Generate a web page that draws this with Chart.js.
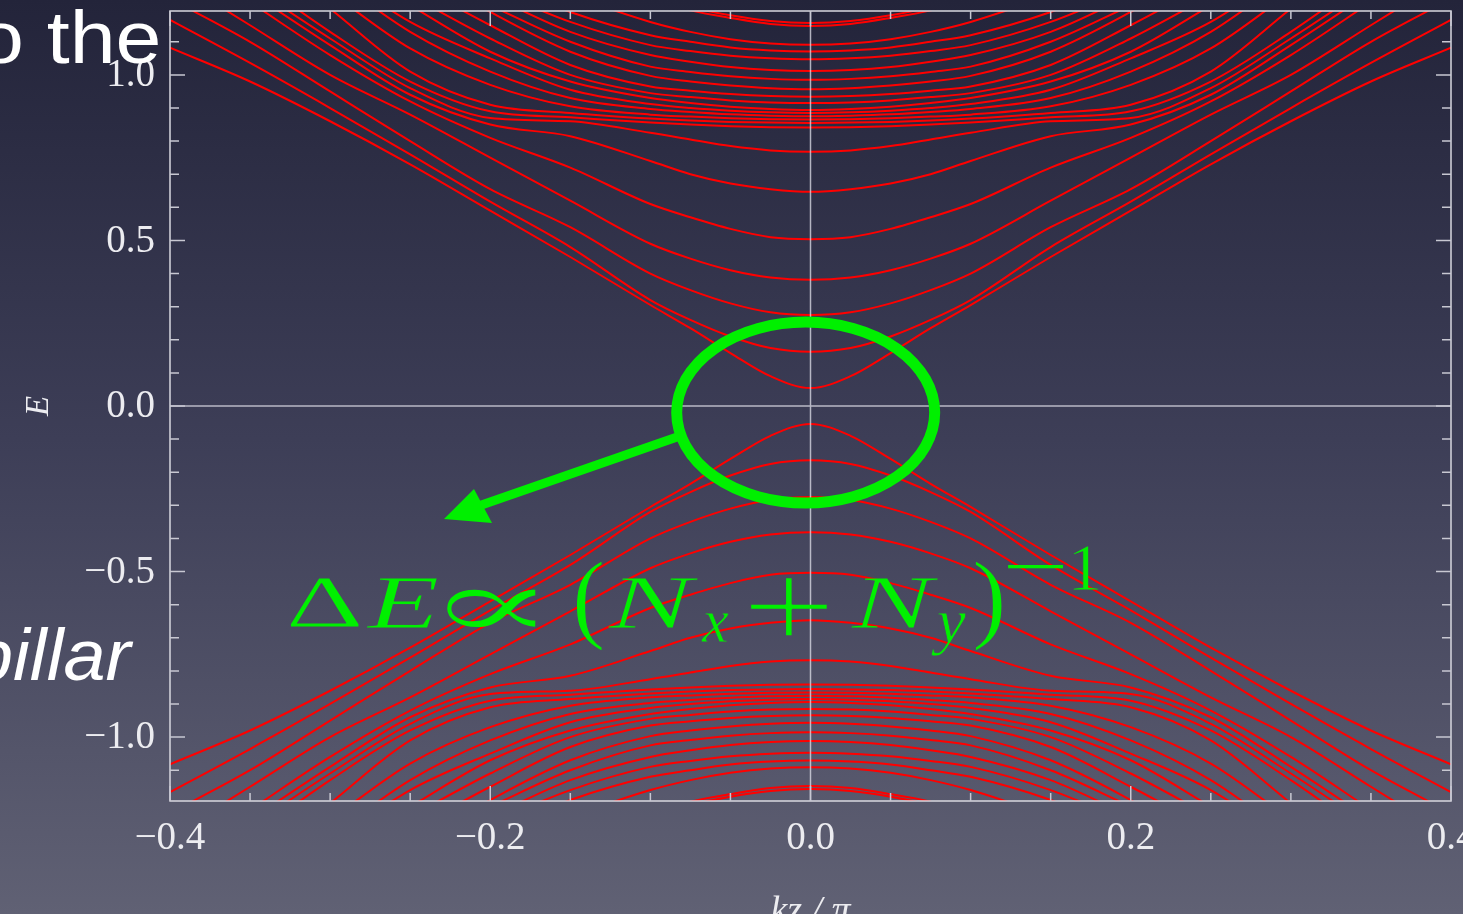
<!DOCTYPE html>
<html>
<head>
<meta charset="utf-8">
<script src="https://cdn.jsdelivr.net/npm/chart.js@4.4.1/dist/chart.umd.min.js"></script>
<style>
  html, body { margin: 0; padding: 0; width: 1463px; height: 914px; overflow: hidden; }
  body { background: linear-gradient(180deg, #23243a 0%, #3d3e57 48%, #606174 100%); }
  canvas { display: block; }
</style>
</head>
<body>
<canvas id="bands" width="1463" height="914"></canvas>
<script>
// Momentum grid (kz / pi) on which each band is sampled; bands are even in kz.
const kzGrid = [0, 0.025, 0.05, 0.075, 0.1, 0.15, 0.2, 0.25, 0.3, 0.35, 0.4];

// Positive-energy bands E(kz), ordered from the gap upwards;
// the spectrum is particle-hole symmetric.
const band01 = [0.054, 0.09, 0.16, 0.235, 0.305, 0.45, 0.59, 0.73, 0.86, 0.98, 1.082];
const band02 = [0.164, 0.175, 0.21, 0.26, 0.32, 0.48, 0.617, 0.76, 0.90, 1.036, 1.166];
const band03 = [0.275, 0.283, 0.31, 0.35, 0.40, 0.54, 0.655, 0.80, 0.95, 1.10, 1.23];
const band04 = [0.381, 0.388, 0.41, 0.445, 0.49, 0.62, 0.75, 0.88, 1.0, 1.15, 1.30];
const band05 = [0.504, 0.51, 0.535, 0.57, 0.61, 0.72, 0.81, 0.92, 1.06, 1.22];
const band06 = [0.647, 0.655, 0.672, 0.70, 0.74, 0.815, 0.85, 0.94, 1.09, 1.25];
const band07 = [0.768, 0.772, 0.785, 0.805, 0.825, 0.86, 0.87, 0.96, 1.11, 1.27];
const band08 = [0.841, 0.842, 0.845, 0.85, 0.856, 0.872, 0.89, 0.98, 1.13, 1.30];
const band09 = [0.855, 0.856, 0.858, 0.862, 0.868, 0.885, 0.91, 1.01, 1.20];
const band10 = [0.865, 0.866, 0.869, 0.874, 0.88, 0.905, 0.97, 1.08, 1.25];
const band11 = [0.875, 0.877, 0.881, 0.888, 0.897, 0.93, 1.01, 1.13, 1.30];
const band12 = [0.885, 0.887, 0.892, 0.90, 0.912, 0.955, 1.05, 1.16, 1.32];
const band13 = [0.894, 0.897, 0.904, 0.915, 0.93, 0.98, 1.07, 1.21];
const band14 = [0.915, 0.917, 0.923, 0.933, 0.945, 1.00, 1.11, 1.24];
const band15 = [0.934, 0.936, 0.942, 0.952, 0.965, 1.03, 1.15, 1.28];
const band16 = [0.957, 0.96, 0.968, 0.98, 0.997, 1.07, 1.19, 1.33];
const band17 = [0.985, 0.988, 0.996, 1.009, 1.025, 1.10, 1.21];
const band18 = [1.012, 1.015, 1.024, 1.04, 1.06, 1.13, 1.24];
const band19 = [1.047, 1.05, 1.058, 1.072, 1.09, 1.16, 1.26];
const band20 = [1.071, 1.074, 1.083, 1.10, 1.12, 1.19, 1.29];
const band21 = [1.091, 1.095, 1.108, 1.13, 1.16, 1.24];
const band22 = [1.148, 1.154, 1.172, 1.195, 1.23];
const band23 = [1.157, 1.163, 1.18, 1.205, 1.24];

const upperBands = [band01, band02, band03, band04, band05, band06, band07, band08,
  band09, band10, band11, band12, band13, band14, band15, band16,
  band17, band18, band19, band20, band21, band22, band23];

// Axis ranges and labelled ticks
const kzRange = [-0.4, 0.4];
const energyRange = [-1.193, 1.193];
const kzTickLabels = [-0.4, -0.2, 0.0, 0.2, 0.4];
const energyTickLabels = [-1.0, -0.5, 0.0, 0.5, 1.0];

// Build full curves: mirror in kz, and mirror in E for the negative branch.
function curve(band, sign) {
  const pts = [];
  for (let i = band.length - 1; i >= 1; i--) pts.push({ x: -kzGrid[i], y: sign * band[i] });
  for (let i = 0; i < band.length; i++) pts.push({ x: kzGrid[i], y: sign * band[i] });
  return pts;
}
const datasets = [];
for (const b of upperBands) {
  for (const s of [1, -1]) {
    datasets.push({
      data: curve(b, s),
      borderColor: '#ff0000',
      borderWidth: 2,
      pointRadius: 0,
      fill: false,
      cubicInterpolationMode: 'monotone'
    });
  }
}

const fmt = v => (v < 0 ? '\u2212' : '') + Math.abs(v).toFixed(1);

// Draw one glyph so that its ink fills the box [x0,x1] x [y0,y1];
// 'thin' pixels are then shaved off each side of the strokes.
function glyph(ctx, text, font, x0, y0, x1, y1, thin) {
  ctx.font = font;
  ctx.textAlign = 'left';
  ctx.textBaseline = 'alphabetic';
  const m = ctx.measureText(text);
  const w = m.actualBoundingBoxLeft + m.actualBoundingBoxRight;
  const h = m.actualBoundingBoxAscent + m.actualBoundingBoxDescent;
  const sx = (x1 - x0) / w, sy = (y1 - y0) / h;
  ctx.save();
  ctx.translate(x0, y0);
  ctx.scale(sx, sy);
  ctx.globalCompositeOperation = 'source-over';
  ctx.fillText(text, m.actualBoundingBoxLeft, m.actualBoundingBoxAscent);
  if (thin > 0) {
    ctx.globalCompositeOperation = 'destination-out';
    ctx.lineJoin = 'round';
    ctx.lineWidth = 2 * thin / sx;
    ctx.strokeText(text, m.actualBoundingBoxLeft, m.actualBoundingBoxAscent);
  }
  ctx.restore();
}

const formulaLayer = document.createElement('canvas');
formulaLayer.width = 1463;
formulaLayer.height = 914;

const decor = {
  id: 'decor',
  afterDatasetsDraw(chart) {
    const ctx = chart.ctx;
    const xs = chart.scales.x, ys = chart.scales.y;
    const a = chart.chartArea;
    ctx.save();

    // zero axes
    ctx.strokeStyle = 'rgba(225,225,235,0.75)';
    ctx.lineWidth = 1.5;
    ctx.beginPath();
    ctx.moveTo(xs.getPixelForValue(0), a.top);
    ctx.lineTo(xs.getPixelForValue(0), a.bottom);
    ctx.moveTo(a.left, ys.getPixelForValue(0));
    ctx.lineTo(a.right, ys.getPixelForValue(0));
    ctx.stroke();

    // frame
    ctx.strokeStyle = '#d8d8e0';
    ctx.lineWidth = 1.5;
    ctx.strokeRect(a.left, a.top, a.right - a.left, a.bottom - a.top);

    // inward tick marks
    ctx.strokeStyle = '#c8c8d2';
    ctx.lineWidth = 1.5;
    ctx.beginPath();
    for (let i = -8; i <= 8; i++) {
      const px = xs.getPixelForValue(i * 0.05);
      const len = (i % 4 === 0) ? 15 : 8;
      ctx.moveTo(px, a.bottom); ctx.lineTo(px, a.bottom - len);
      ctx.moveTo(px, a.top); ctx.lineTo(px, a.top + len);
    }
    for (let i = -11; i <= 11; i++) {
      const py = ys.getPixelForValue(i * 0.1);
      const len = (i % 5 === 0) ? 15 : 9;
      ctx.moveTo(a.left, py); ctx.lineTo(a.left + len, py);
      ctx.moveTo(a.right, py); ctx.lineTo(a.right - len, py);
    }
    ctx.stroke();

    // tick labels
    ctx.fillStyle = '#ececf0';
    ctx.font = '39px "Liberation Serif"';
    ctx.textAlign = 'right';
    ctx.textBaseline = 'middle';
    for (const v of energyTickLabels) ctx.fillText(fmt(v), a.left - 15, ys.getPixelForValue(v) + 1);
    ctx.textAlign = 'center';
    ctx.textBaseline = 'alphabetic';
    for (const v of kzTickLabels) ctx.fillText(fmt(v), xs.getPixelForValue(v), a.bottom + 48);

    // axis titles
    ctx.font = 'italic 33px "Liberation Serif"';
    ctx.save();
    ctx.translate(48, ys.getPixelForValue(0));
    ctx.rotate(-Math.PI / 2);
    ctx.textAlign = 'center';
    ctx.fillText('E', 0, 0);
    ctx.restore();
    ctx.font = 'italic 38px "Liberation Serif"';
    ctx.textAlign = 'center';
    ctx.fillText('kz / \u03c0', xs.getPixelForValue(0), 922);

    // slide text
    ctx.fillStyle = '#ffffff';
    ctx.textAlign = 'left';
    ctx.save();
    ctx.translate(-22, 63);
    ctx.scale(1.1, 1);
    ctx.font = '75px "Liberation Sans"';
    ctx.fillText('o the', 0, 0);
    ctx.restore();
    ctx.save();
    ctx.translate(-29, 680);
    ctx.scale(1.05, 1);
    ctx.font = 'italic 72px "Liberation Sans"';
    ctx.fillText('pillar', 0, 0);
    ctx.restore();

    // highlight ellipse and arrow
    const green = '#00f000';
    ctx.strokeStyle = green;
    ctx.fillStyle = green;
    const cx = xs.getPixelForValue(-0.003), cy = ys.getPixelForValue(-0.02);
    ctx.lineWidth = 11;
    ctx.beginPath();
    ctx.ellipse(cx, cy, 129, 90.5, 0, 0, Math.PI * 2);
    ctx.stroke();
    ctx.lineWidth = 9;
    ctx.beginPath();
    ctx.moveTo(680, 436);
    ctx.lineTo(470, 509);
    ctx.stroke();
    ctx.beginPath();
    ctx.moveTo(444, 519);
    ctx.lineTo(474, 489);
    ctx.lineTo(492, 523);
    ctx.closePath();
    ctx.fill();

    // scaling law  ΔE ∝ (Nx + Ny)^-1
    const f = formulaLayer.getContext('2d');
    f.clearRect(0, 0, formulaLayer.width, formulaLayer.height);
    f.fillStyle = green;
    f.strokeStyle = '#000';
    const R = '"Liberation Serif"';
    glyph(f, '\u0394', '80px ' + R, 290, 578, 360, 628, 0.8);
    glyph(f, 'E', 'italic 80px ' + R, 366, 578, 438, 628, 0.7);
    glyph(f, '\u221d', '80px "DejaVu Serif"', 444, 588, 538, 629, 1.6);
    glyph(f, '(', '100px ' + R, 576, 560, 603, 652, 0.6);
    glyph(f, 'N', 'italic 80px ' + R, 607, 578, 700, 628, 0.8);
    glyph(f, 'x', 'italic 56px ' + R, 701, 613, 729, 642, 0.4);
    glyph(f, '+', '100px ' + R, 748, 576, 829, 636, 1.5);
    glyph(f, 'N', 'italic 80px ' + R, 850, 578, 940, 628, 0.8);
    glyph(f, 'y', 'italic 56px ' + R, 931, 613, 966, 656, 0.4);
    glyph(f, ')', '100px ' + R, 975, 560, 1002, 652, 0.6);
    glyph(f, '\u2212', '60px ' + R, 1006, 564, 1063, 568.5, 0);
    glyph(f, '1', '60px ' + R, 1073, 546, 1099, 590, 0.5);
    ctx.drawImage(formulaLayer, 0, 0);

    ctx.restore();
  }
};

new Chart(document.getElementById('bands'), {
  type: 'line',
  data: { datasets },
  options: {
    responsive: false,
    animation: false,
    devicePixelRatio: 1,
    layout: { padding: { top: 11, right: 12, left: 0, bottom: 0 } },
    plugins: { legend: { display: false }, tooltip: { enabled: false } },
    scales: {
      x: {
        type: 'linear', min: kzRange[0], max: kzRange[1],
        grid: { display: false, drawTicks: false }, border: { display: false },
        ticks: { display: false },
        afterFit: s => { s.height = 113; s.paddingLeft = 0; s.paddingRight = 0; }
      },
      y: {
        type: 'linear', min: energyRange[0], max: energyRange[1],
        grid: { display: false, drawTicks: false }, border: { display: false },
        ticks: { display: false },
        afterFit: s => { s.width = 170; s.paddingTop = 0; s.paddingBottom = 0; }
      }
    }
  },
  plugins: [decor]
});
</script>
</body>
</html>
